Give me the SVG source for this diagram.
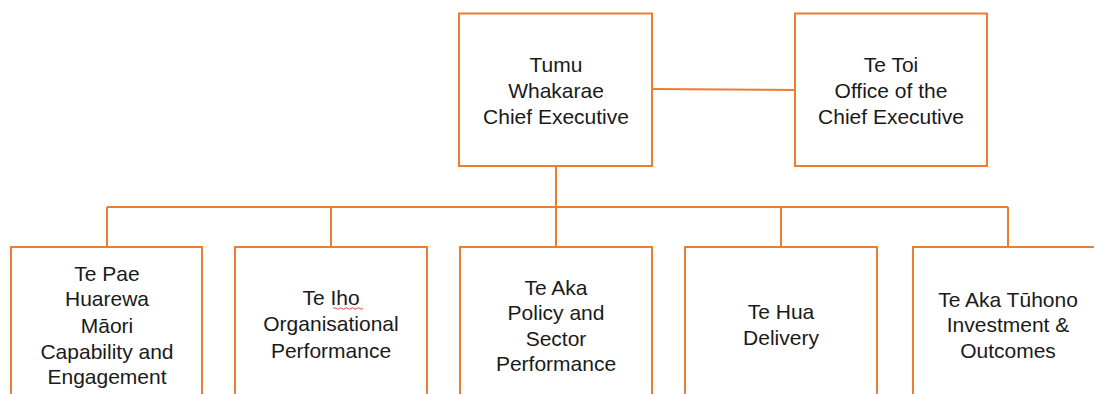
<svg xmlns="http://www.w3.org/2000/svg" width="1094" height="394" viewBox="0 0 1094 394">
<style>
.box{fill:#fff;stroke:#ED7D31;stroke-width:2}
.c{fill:none;stroke:#ED7D31;stroke-width:2}
text{font-family:"Liberation Sans",Arial,sans-serif;font-size:21px;fill:#1a1a1a;text-anchor:middle}
</style>
<rect width="1094" height="394" fill="#fff"/>
<g id="connectors">
<path class="c" d="M652,89 L795,90"/>
<path class="c" d="M556,166 V207"/>
<path class="c" d="M107,207 H1008"/>
<path class="c" d="M107,207 V247 M331,207 V247 M556,207 V247 M781,207 V247 M1008,207 V247"/>
</g>
<g id="ceo">
<rect class="box" x="459" y="13.5" width="193" height="152.5"/>
<text x="556" y="72">Tumu</text>
<text x="556" y="98">Whakarae</text>
<text x="556" y="124">Chief Executive</text>
</g>
<g id="tetoi">
<rect class="box" x="795" y="13.5" width="192" height="152.5"/>
<text x="891" y="72">Te Toi</text>
<text x="891" y="98">Office of the</text>
<text x="891" y="124">Chief Executive</text>
</g>
<g id="tepae">
<rect class="box" x="11" y="247" width="191" height="160"/>
<text x="107" y="281">Te Pae</text>
<text x="107" y="306">Huarewa</text>
<text x="107" y="333">Māori</text>
<text x="107" y="359">Capability and</text>
<text x="107" y="384">Engagement</text>
</g>
<g id="teiho">
<rect class="box" x="235" y="247" width="192" height="160"/>
<text x="331" y="305">Te Iho</text>
<text x="331" y="331">Organisational</text>
<text x="331" y="358">Performance</text>
<path d="M333,308.5 q1.5,-1.5 3,0 t3,0 t3,0 t3,0 t3,0 t3,0 t3,0 t3,0 t3,0 t3,0" fill="none" stroke="#e03030" stroke-width="0.9"/>
</g>
<g id="teaka">
<rect class="box" x="460" y="247" width="192" height="160"/>
<text x="556" y="295">Te Aka</text>
<text x="556" y="320">Policy and</text>
<text x="556" y="346">Sector</text>
<text x="556" y="371">Performance</text>
</g>
<g id="tehua">
<rect class="box" x="685" y="247" width="192" height="160"/>
<text x="781" y="319">Te Hua</text>
<text x="781" y="345">Delivery</text>
</g>
<g id="teakatuhono">
<rect class="box" x="913" y="247" width="192" height="160"/>
<text x="1008" y="307">Te Aka Tūhono</text>
<text x="1008" y="332">Investment &amp;</text>
<text x="1008" y="358">Outcomes</text>
</g>
</svg>
